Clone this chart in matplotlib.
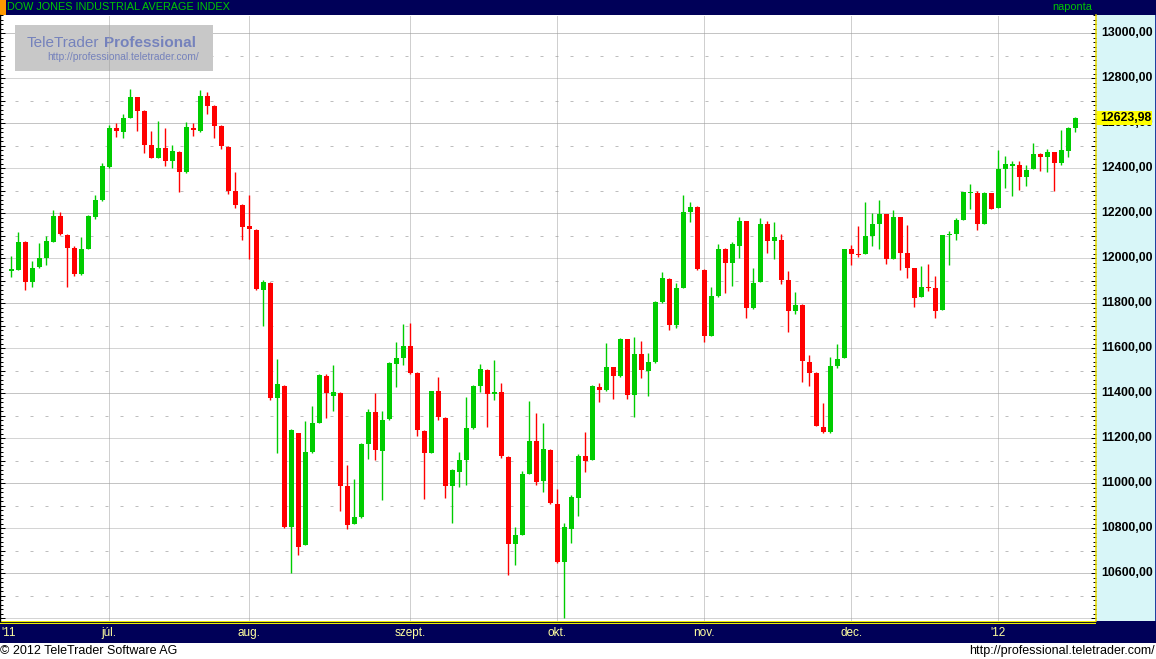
import matplotlib
matplotlib.use("Agg")
import matplotlib.pyplot as plt
from matplotlib.patches import Rectangle
from matplotlib.ticker import MultipleLocator
import numpy as np

plt.rcParams['font.family'] = ['Liberation Sans', 'DejaVu Sans']

# ---------------- data (daily OHLC, 13 Jun 2011 - 19 Jan 2012) ----------------
opens = [11943, 11948, 12071, 11895, 11960, 12001, 12073, 12187, 12102, 12044,
         11930, 12041, 12184, 12258, 12406, 12578, 12560, 12624, 12716, 12653,
         12502, 12446, 12489, 12433, 12471, 12384, 12578, 12564, 12720, 12676,
         12587, 12495, 12298, 12236, 12142, 12124, 11859, 11889, 11378, 11431,
         10804, 11222, 10724, 11138, 11267, 11476, 11387, 11400, 10987, 10818,
         10849, 11173, 11316, 11142, 11284, 11529, 11556, 11609, 11489, 11231,
         11135, 11407, 11289, 10988, 11050, 11102, 11244, 11431, 11502, 11396,
         11404, 11116, 10729, 10769, 11040, 11187, 11009, 11147, 10907, 10649,
         10796, 10933, 11120, 11102, 11427, 11413, 11516, 11476, 11640, 11391,
         11573, 11498, 11538, 11804, 11907, 11702, 11867, 12204, 12227, 11947,
         11653, 11831, 12040, 11978, 12053, 12164, 11778, 11893, 12151, 12076,
         12080, 11902, 11764, 11791, 11538, 11489, 11249, 11227, 11520, 11556,
         12040, 12018, 12020, 12097, 12149, 12195, 11996, 12183, 12021, 11954,
         11825, 11868, 11866, 11769, 12103, 12107, 12169, 12291, 12291, 12151,
         12287, 12221, 12397, 12412, 12415, 12359, 12394, 12462, 12449, 12470,
         12422, 12476, 12578]
highs = [12009, 12116, 12076, 11987, 12067, 12098, 12213, 12204, 12107, 12053,
         12093, 12191, 12280, 12422, 12590, 12600, 12640, 12751, 12716, 12658,
         12564, 12609, 12578, 12502, 12476, 12604, 12600, 12747, 12738, 12680,
         12591, 12498, 12384, 12240, 12280, 12129, 11902, 11893, 11551, 11436,
         11240, 11222, 11276, 11342, 11484, 11484, 11524, 11404, 11080, 11018,
         11178, 11329, 11400, 11320, 11538, 11627, 11707, 11711, 11493, 11236,
         11409, 11471, 11293, 11062, 11138, 11382, 11436, 11530, 11507, 11547,
         11444, 11120, 10804, 11053, 11364, 11311, 11267, 11151, 10973, 10822,
         10947, 11129, 11227, 11436, 11444, 11622, 11516, 11644, 11640, 11649,
         11631, 11578, 11809, 11938, 11911, 11889, 12280, 12249, 12231, 11951,
         11871, 12062, 12044, 12071, 12182, 12164, 11956, 12178, 12164, 12160,
         12107, 11942, 11849, 11796, 11569, 11493, 11356, 11560, 11618, 12040,
         12058, 12142, 12249, 12202, 12258, 12196, 12212, 12183, 12148, 11955,
         11966, 11972, 11919, 12103, 12119, 12177, 12295, 12331, 12296, 12293,
         12288, 12479, 12452, 12433, 12431, 12414, 12511, 12465, 12485, 12470,
         12569, 12581, 12628]
lows = [11917, 11945, 11859, 11873, 11957, 11969, 12071, 12101, 11873, 11921,
        11926, 12040, 12175, 12253, 12401, 12539, 12533, 12621, 12566, 12468,
        12446, 12444, 12410, 12401, 12295, 12379, 12542, 12560, 12640, 12533,
        12484, 12284, 12222, 12080, 11996, 11858, 11698, 11369, 11133, 10802,
        10600, 10680, 10724, 11133, 11267, 11289, 11320, 10876, 10796, 10818,
        10844, 11107, 11102, 10924, 11280, 11427, 11524, 11484, 11209, 10929,
        11135, 11280, 10935, 10824, 10984, 10991, 11240, 11404, 11249, 11369,
        11111, 10591, 10636, 10769, 11040, 10991, 10960, 10907, 10644, 10400,
        10733, 10853, 11049, 11102, 11360, 11409, 11373, 11471, 11373, 11293,
        11467, 11387, 11533, 11800, 11680, 11689, 11867, 12160, 11947, 11627,
        11653, 11827, 11844, 11876, 12000, 11733, 11773, 11893, 12022, 11996,
        11884, 11671, 11751, 11449, 11431, 11253, 11222, 11222, 11511, 11556,
        11969, 12004, 12020, 12053, 12042, 11973, 11996, 11946, 11912, 11784,
        11825, 11853, 11735, 11769, 11967, 12081, 12169, 12220, 12123, 12151,
        12217, 12221, 12312, 12276, 12304, 12320, 12394, 12387, 12383, 12296,
        12412, 12450, 12561]
closes = [11950, 12071, 11895, 11955, 12000, 12076, 12187, 12107, 12046, 11930,
          12040, 12187, 12258, 12409, 12579, 12566, 12622, 12716, 12655, 12504,
          12446, 12489, 12433, 12476, 12384, 12582, 12569, 12720, 12677, 12587,
          12498, 12298, 12236, 12138, 12129, 11862, 11893, 11378, 11440, 10804,
          11236, 10716, 11138, 11267, 11480, 11400, 11404, 10987, 10813, 10849,
          11173, 11316, 11147, 11280, 11533, 11556, 11609, 11489, 11236, 11133,
          11407, 11293, 10988, 11058, 11102, 11244, 11431, 11507, 11396, 11404,
          11120, 10729, 10769, 11040, 11187, 11004, 11151, 10911, 10649, 10804,
          10938, 11120, 11098, 11431, 11413, 11516, 11476, 11640, 11391, 11573,
          11502, 11538, 11804, 11911, 11702, 11867, 12204, 12227, 11951, 11653,
          11831, 12040, 11978, 12062, 12164, 11778, 11889, 12151, 12076, 12093,
          11902, 11764, 11791, 11542, 11489, 11253, 11227, 11520, 11551, 12040,
          12018, 12015, 12098, 12150, 12196, 11997, 12184, 12021, 11955, 11824,
          11869, 11867, 11766, 12103, 12107, 12169, 12294, 12291, 12151, 12288,
          12218, 12397, 12418, 12415, 12360, 12393, 12462, 12450, 12471, 12422,
          12482, 12578, 12623.98]

month_labels = ["júl.", "aug.", "szept.", "okt.", "nov.", "dec.", "'12"]
month_index = [14, 34, 57, 78, 99, 120, 141]
price_labels = list(range(10600, 13001, 200))
last_close = 12623.98

# ---------------- layout helpers (pixel based) ----------------
W, H = 1156, 659
NAVY = '#000058'


def fx(px):
    return px / W


def fy(py):
    return 1 - py / H


fig = plt.figure(figsize=(W / 100, H / 100), dpi=100)
fig.patch.set_facecolor('white')

PLOT_TOP, PLOT_BOT, PLOT_RIGHT = 15, 621, 1096
ax = fig.add_axes([0, fy(PLOT_BOT), fx(PLOT_RIGHT), (PLOT_BOT - PLOT_TOP) / H])
ax.set_facecolor('white')
ax.set_xlim(-1.614, 154.96)
ax.set_ylim(10386.7, 13080.0)

# grid
for v in range(10400, 13001, 100):
    if v % 200 == 0:
        col = '#8A8A8A' if v % 400 == 200 else '#ABABAB'
        ax.axhline(v, color=col, lw=0.72, ls=(0, (1, 1)), zorder=0.5)
    else:
        ax.axhline(v, color='#BEBEBE', lw=0.72, ls=(0, (3, 12)), zorder=0.5)
for p in month_index:
    ax.axvline(p, color='#A0A0A0', lw=0.72, ls=(0, (1, 1)), zorder=1.5)

# watermark
ax_h = PLOT_BOT - PLOT_TOP


def ay(py):
    return (PLOT_BOT - py) / ax_h


def axx(px):
    return px / PLOT_RIGHT


ax.add_patch(Rectangle((axx(15), ay(71)), axx(213) - axx(15), ay(25) - ay(71),
                       transform=ax.transAxes, fc='#C8C8C8', ec='none', zorder=1))
wm_col = '#7582BC'
ax.text(axx(27), ay(47), 'TeleTrader', transform=ax.transAxes, fontsize=11,
        color=wm_col, ha='left', va='baseline', zorder=1.2)
ax.text(axx(104), ay(47), 'Professional', transform=ax.transAxes, fontsize=11,
        fontweight='bold', color=wm_col, ha='left', va='baseline', zorder=1.2)
ax.text(axx(47), ay(60.5), 'http://professional.teletrader.com/', transform=ax.transAxes,
        fontsize=7.4, color=wm_col, ha='left', va='baseline', zorder=1.2)

# candles
o = np.array(opens, float)
h = np.array(highs, float)
l = np.array(lows, float)
c = np.array(closes, float)
x = np.arange(len(o))
up = c >= o
cols = np.where(up, '#00CC00', '#FF0000')
ax.vlines(x, l, h, colors=cols, lw=1.0, zorder=2)
bot = np.minimum(o, c)
hgt = np.abs(c - o)
minh = 5.0
bot = np.where(hgt < minh, (o + c) / 2 - minh / 2, bot)
hgt = np.maximum(hgt, minh)
ax.bar(x, hgt, bottom=bot, width=0.72, color=cols, lw=0, zorder=3)

# ticks / spines
ax.yaxis.set_major_locator(MultipleLocator(100))
ax.yaxis.set_minor_locator(MultipleLocator(20))
ax.tick_params(axis='y', which='both', direction='in', left=True, right=True,
               labelleft=False, labelright=False, color='black', width=0.72)
ax.tick_params(axis='y', which='major', length=3.6)
ax.tick_params(axis='y', which='minor', length=2.2)
ax.set_xticks([])
ax.spines['top'].set_visible(False)
ax.spines['bottom'].set_visible(False)
ax.spines['left'].set_color('black')
ax.spines['left'].set_linewidth(1.0)
ax.spines['right'].set_color('#E8D800')
ax.spines['right'].set_linewidth(1.1)

# right price panel
fig.add_artist(Rectangle((fx(PLOT_RIGHT), fy(PLOT_BOT)), fx(W - 1) - fx(PLOT_RIGHT),
                         (PLOT_BOT - PLOT_TOP) / H, transform=fig.transFigure,
                         fc='#D8F6F8', ec='none', zorder=-1))
fig.add_artist(Rectangle((fx(W - 1.5), fy(PLOT_BOT)), fx(1.5), (PLOT_BOT - PLOT_TOP) / H,
                         transform=fig.transFigure, fc='#2040A0', ec='none', zorder=-1))

ytr = ax.get_yaxis_transform()
for v in price_labels:
    ax.text(axx(1101.5), v, f"{v},00", transform=ytr, ha='left', va='center',
            fontsize=8.8, fontweight='bold', color='black', zorder=5, clip_on=False)

# last price tag (covers the 12600 label as in the original)
ppp = (13080.0 - 10386.7) / ax_h  # value per pixel
ax.add_patch(Rectangle((axx(1097), last_close - 7.0 * ppp), axx(1152) - axx(1097), 14.0 * ppp,
                       transform=ytr, fc='#FFFF00', ec='none', zorder=6, clip_on=False))
ax.text(axx(1100.5), last_close, f"{last_close:.2f}".replace('.', ','), transform=ytr,
        ha='left', va='center', fontsize=8.8, fontweight='bold', color='black',
        zorder=7, clip_on=False)

# header bar
fig.add_artist(Rectangle((0, fy(PLOT_TOP)), 1, PLOT_TOP / H, transform=fig.transFigure,
                         fc=NAVY, ec='none', zorder=-1))
fig.add_artist(Rectangle((0, fy(PLOT_TOP)), fx(5.7), PLOT_TOP / H, transform=fig.transFigure,
                         fc='#FF9900', ec='none', zorder=-0.5))
fig.text(fx(7.3), fy(7.5), 'DOW JONES INDUSTRIAL AVERAGE INDEX', color='#00C800',
         fontsize=7.8, ha='left', va='center')
fig.text(fx(1092), fy(7.5), 'naponta', color='#00C800', fontsize=7.8,
         ha='right', va='center')

# bottom axis bar
fig.add_artist(Rectangle((0, fy(643)), 1, (643 - PLOT_BOT) / H, transform=fig.transFigure,
                         fc=NAVY, ec='none', zorder=-1))
fig.add_artist(Rectangle((0, fy(624.3)), fx(PLOT_RIGHT), 3.3 / H, transform=fig.transFigure,
                         fc='#F0F000', ec='none', zorder=-0.9))
fig.add_artist(Rectangle((0, fy(623.2)), fx(PLOT_RIGHT), 1.1 / H, transform=fig.transFigure,
                         fc='#202020', ec='none', zorder=-0.8))
xtr = ax.get_xaxis_transform()
for p, lab in zip(month_index, month_labels):
    ax.text(p, ay(633), lab, transform=xtr, ha='center', va='center', fontsize=8.5,
            color='#FFFFA0', clip_on=False, zorder=5)
ax.text(axx(1.7), ay(633), "'11", transform=ax.transAxes, ha='left', va='center',
        fontsize=8.5, color='#FFFFA0', clip_on=False, zorder=5)

# footer
fig.text(fx(0), fy(651), '© 2012 TeleTrader Software AG', fontsize=9, color='black',
         ha='left', va='center')
fig.text(fx(1155), fy(651), 'http://professional.teletrader.com/', fontsize=9,
         color='black', ha='right', va='center')

fig.savefig('out.png', dpi=100)
